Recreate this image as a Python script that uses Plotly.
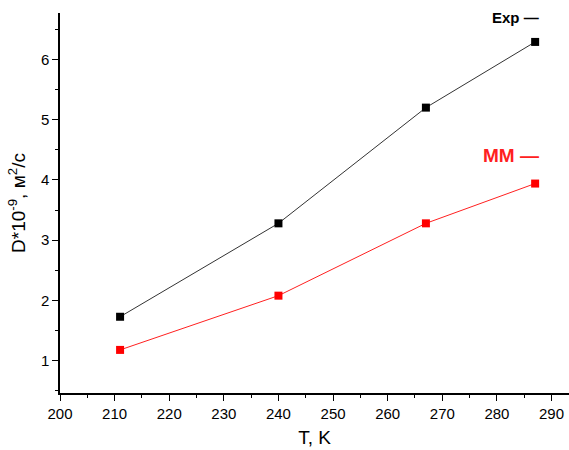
import plotly.graph_objects as go

T = [211, 240, 267, 287]
exp_vals = [1.73, 3.28, 5.20, 6.29]
mm_vals = [1.18, 2.08, 3.28, 3.94]
x_ticks = [200, 210, 220, 230, 240, 250, 260, 270, 280, 290]
y_ticks = [1, 2, 3, 4, 5, 6]

fig = go.Figure()
fig.add_trace(go.Scatter(x=T, y=exp_vals, mode="lines+markers",
                         line=dict(color="#333333", width=1),
                         marker=dict(symbol="square", size=8, color="black"),
                         showlegend=False))
fig.add_trace(go.Scatter(x=T, y=mm_vals, mode="lines+markers",
                         line=dict(color="#ff2020", width=1),
                         marker=dict(symbol="square", size=8, color="#ff0000"),
                         showlegend=False))

fig.add_annotation(x=1, xref="paper", xanchor="right", xshift=-28,
                   y=0.987, yref="paper", yanchor="middle", text="<b>Exp —</b>", showarrow=False,
                   font=dict(family="Liberation Sans, Arial", size=15, color="black"))
fig.add_annotation(x=1, xref="paper", xanchor="right", xshift=-28,
                   y=4.41, yref="y", text="<b>MM —</b>", showarrow=False,
                   font=dict(family="Liberation Sans, Arial", size=19, color="#ff2020"))

axis_font = dict(family="Liberation Sans, Arial", size=15, color="black")
fig.update_layout(
    width=569, height=450,
    margin=dict(l=60, r=0, t=13, b=57),
    plot_bgcolor="white", paper_bgcolor="white",
    font=axis_font,
    xaxis=dict(range=[200, 293.2], tickvals=x_ticks, showline=True, linecolor="black",
               linewidth=1.5, ticks="outside", ticklen=6, tickcolor="black",
               showgrid=False, zeroline=False, mirror=False,
               minor=dict(dtick=5, tick0=200, ticks="outside", ticklen=3, tickcolor="black", showgrid=False),
               title=dict(text="T, K", font=dict(size=19), standoff=10)),
    yaxis=dict(range=[0.465, 6.77], tickvals=y_ticks, showline=True, linecolor="black",
               linewidth=1.5, ticks="outside", ticklen=6, tickcolor="black",
               showgrid=False, zeroline=False, mirror=False,
               minor=dict(dtick=0.5, tick0=0, ticks="outside", ticklen=3, tickcolor="black", showgrid=False),
               title=dict(text="D*10<sup>-9</sup>, м<sup>2</sup>/с", font=dict(size=19), standoff=10)),
)

fig.write_html("out.html")
